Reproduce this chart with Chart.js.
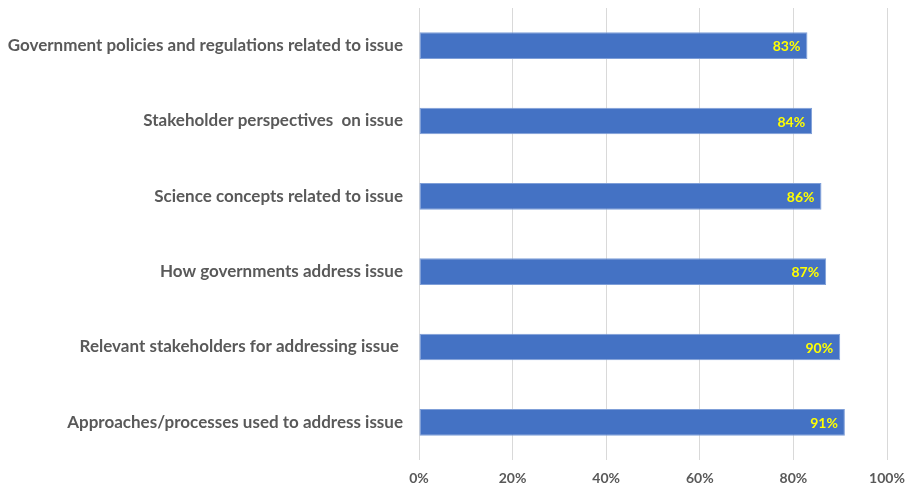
<!DOCTYPE html>
<html>
<head>
<meta charset="utf-8">
<script src="https://cdn.jsdelivr.net/npm/chart.js@4.4.1/dist/chart.umd.min.js"></script>
<style>
  html, body { margin: 0; padding: 0; background: #ffffff; }
  #wrap { width: 918px; height: 487px; position: relative; }
</style>
</head>
<body>
<div id="wrap"><canvas id="issueChart"></canvas></div>
<script>
const categories = [
  'Government policies and regulations related to issue',
  'Stakeholder perspectives  on issue',
  'Science concepts related to issue',
  'How governments address issue',
  'Relevant stakeholders for addressing issue ',
  'Approaches/processes used to address issue'
];
const percentValues = [83, 84, 86, 87, 90, 91];
const axisTicks = [0, 20, 40, 60, 80, 100];

const labelFont = 'Lato, "Liberation Sans", sans-serif';

// writes the percentage just inside the end of each bar
const barValueLabels = {
  id: 'barValueLabels',
  afterDatasetsDraw(chart) {
    const ctx = chart.ctx;
    const meta = chart.getDatasetMeta(0);
    ctx.save();
    ctx.font = 'bold 14px ' + labelFont;
    ctx.fillStyle = '#ffff00';
    ctx.textAlign = 'right';
    ctx.textBaseline = 'middle';
    meta.data.forEach((bar, i) => {
      ctx.fillText(percentValues[i] + '%', bar.x - 7, bar.y + 1);
    });
    ctx.restore();
  }
};

const ctx = document.getElementById('issueChart').getContext('2d');
new Chart(ctx, {
  type: 'bar',
  data: {
    labels: categories,
    datasets: [{
      data: percentValues,
      backgroundColor: '#4472c4',
      borderColor: '#7f9fd8',
      borderWidth: 1,
      borderSkipped: false,
      barPercentage: 1,
      categoryPercentage: 0.355
    }]
  },
  options: {
    indexAxis: 'y',
    responsive: true,
    maintainAspectRatio: false,
    animation: false,
    layout: { padding: { top: 8, right: 31, left: 0, bottom: 0 } },
    plugins: {
      legend: { display: false },
      tooltip: { enabled: false }
    },
    scales: {
      x: {
        min: 0,
        max: 100,
        afterBuildTicks(scale) {
          scale.ticks = axisTicks.map(v => ({ value: v }));
        },
        afterFit(scale) { scale.height = 27; },
        grid: { color: '#d9d9d9', lineWidth: 1, drawTicks: false },
        border: { display: false },
        ticks: {
          padding: 10,
          color: '#595959',
          font: { family: labelFont, size: 14, weight: 'bold' },
          callback: v => v + '%'
        }
      },
      y: {
        afterFit(scale) {
          scale.width = 419;
          // labels sit beside the bars, so no extra room above/below
          scale.paddingTop = 0;
          scale.paddingBottom = 0;
        },
        grid: { display: false, drawTicks: false },
        border: { display: false },
        ticks: {
          padding: 16,
          color: '#595959',
          font: { family: labelFont, size: 17, weight: 'bold' }
        }
      }
    }
  },
  plugins: [barValueLabels]
});
</script>
</body>
</html>
